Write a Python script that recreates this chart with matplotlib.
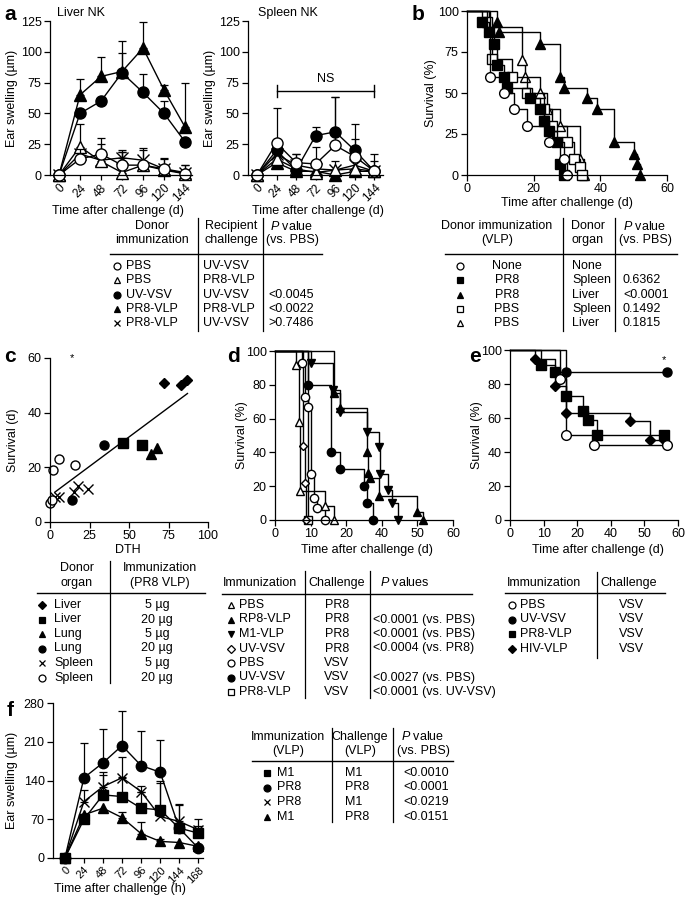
import numpy as np
import matplotlib.pyplot as plt

plt.rcParams['font.family'] = ['Liberation Sans', 'DejaVu Sans']
plt.rcParams['font.size'] = 9
plt.rcParams['mathtext.fontset'] = 'custom'
plt.rcParams['mathtext.it'] = 'Liberation Sans:italic'
plt.rcParams['mathtext.rm'] = 'Liberation Sans'

W, H = 685, 898

# ---------------- panel a : ear swelling (um) ----------------
hours_a = [0, 24, 48, 72, 96, 120, 144]
liver_pbs_uv = [0, 13, 17, 8, 8, 5, 1]
liver_pbs_uv_err = [0, 8, 8, 12, 14, 9, 7]
liver_pbs_pr8 = [0, 23, 11, 2, 8, 4, 1]
liver_pbs_pr8_err = [0, 18, 19, 17, 12, 9, 7]
liver_uv_uv = [0, 50, 60, 83, 67, 50, 27]
liver_uv_uv_err = [0, 0, 0, 16, 15, 10, 0]
liver_pr8_pr8 = [0, 65, 80, 84, 103, 69, 39]
liver_pr8_pr8_err = [0, 13, 16, 25, 21, 4, 36]
liver_pr8_uv = [0, 17, 12, 14, 12, 5, 2]
liver_pr8_uv_err = [0, 0, 0, 5, 0, 0, 0]

spleen_pbs_uv = [0, 26, 10, 9, 24, 15, 3]
spleen_pbs_uv_err = [0, 28, 7, 14, 39, 14, 14]
spleen_pbs_pr8 = [0, 13, 5, 2, 4, 5, 3]
spleen_pbs_pr8_err = [0, 0, 0, 0, 7, 0, 0]
spleen_uv_uv = [0, 20, 4, 32, 35, 20, 3]
spleen_uv_uv_err = [0, 0, 13, 7, 28, 21, 8]
spleen_pr8_pr8 = [0, 10, 3, 3, 0, 3, 3]
spleen_pr8_pr8_err = [0, 0, 0, 0, 0, 0, 0]
spleen_pr8_uv = [0, 17, 8, 5, 4, 8, 3]
spleen_pr8_uv_err = [0, 0, 0, 0, 0, 0, 0]

# ---------------- panel b : survival (%) ----------------
b_none_t = [0, 7, 11, 14, 18, 24.5, 29, 30]
b_none_s = [100, 60, 50, 40, 30, 20, 10, 0]
b_pr8_spleen_t = [0, 4.5, 6.5, 8, 9, 11, 12, 19, 22, 23, 24.5, 27, 28, 29]
b_pr8_spleen_s = [100, 93, 87, 80, 67, 60, 53, 47, 40, 33, 27, 20, 7, 0]
b_pr8_liver_t = [0, 9, 9.5, 22, 28, 29, 36, 39, 44, 50, 51, 52]
b_pr8_liver_s = [100, 93, 87, 80, 60, 53, 47, 40, 20, 13, 7, 0]
b_pbs_spleen_t = [0, 6, 7.5, 13.5, 18, 23, 25.5, 30, 32, 34, 34.5]
b_pbs_spleen_s = [100, 93, 71, 60, 50, 40, 30, 20, 10, 5, 0]
b_pbs_liver_t = [0, 6.5, 16.5, 17.5, 22, 24, 28, 34, 35]
b_pbs_liver_s = [100, 90, 70, 60, 50, 40, 30, 10, 0]

# ---------------- panel c : DTH vs survival ----------------
c_liver5_x, c_liver5_y = [72, 83, 87], [51, 50, 52]
c_liver20_x, c_liver20_y = [46, 58], [29, 28]
c_lung5_x, c_lung5_y = [64, 68], [25, 27]
c_lung20_x, c_lung20_y = [34, 14], [28, 8]
c_spleen5_x, c_spleen5_y = [3, 6, 15, 18, 24], [9, 9, 11, 13, 12]
c_spleen20_x, c_spleen20_y = [2, 6, 16, 0, 1], [19, 23, 21, 7, 8]
c_fit_slope, c_fit_intercept = 0.43, 9.6
c_fit_range = [3, 87]
c_star = (14, 60)

# ---------------- panel d : survival (%) ----------------
d_pbs_pr8_t = [0, 7, 8, 8.5, 17, 20]
d_pbs_pr8_s = [100, 92, 58, 17, 8, 0]
d_rp8_pr8_t = [0, 20, 22, 31, 31.5, 32, 35, 48, 50]
d_rp8_pr8_s = [100, 75, 66, 40, 28, 25, 14, 5, 0]
d_m1_pr8_t = [0, 12, 19.5, 22, 31, 35, 35.5, 38, 39.5, 41.5]
d_m1_pr8_s = [100, 93, 77, 64, 52, 43, 27, 18, 10, 0]
d_uv_pr8_t = [0, 9.5, 10, 10.5]
d_uv_pr8_s = [100, 44, 22, 0]
d_pbs_vsv_t = [0, 9, 10, 11, 12, 13, 14, 17]
d_pbs_vsv_s = [100, 93, 73, 67, 27, 13, 7, 0]
d_uv_vsv_t = [0, 11, 19, 22, 30, 31, 33]
d_uv_vsv_s = [100, 80, 40, 30, 20, 10, 0]
d_pr8_vsv_t = [0, 11]
d_pr8_vsv_s = [100, 0]

# ---------------- panel e : survival (%) ----------------
e_pbs_t, e_pbs_s = [0, 18, 20, 30, 56], [100, 83, 50, 44, 44]
e_uv_t, e_uv_s = [0, 20, 56], [100, 87, 87]
e_pr8_t = [0, 11, 16, 20, 26, 28, 31, 55]
e_pr8_s = [100, 91, 87, 73, 64, 59, 50, 50]
e_hiv_t = [0, 9, 16, 20, 43, 50, 55]
e_hiv_s = [100, 95, 79, 63, 58, 47, 47]
e_star = (55, 94)

# ---------------- panel f : ear swelling (um) ----------------
hours_f = [0, 24, 48, 72, 96, 120, 144, 168]
f_m1_m1 = [0, 70, 114, 111, 90, 87, 54, 45]
f_m1_m1_err = [0, 10, 36, 36, 30, 48, 41, 12]
f_pr8_pr8 = [0, 145, 172, 203, 167, 155, 54, 18]
f_pr8_pr8_err = [0, 63, 61, 62, 62, 59, 0, 0]
f_pr8_m1 = [0, 102, 129, 145, 120, 75, 66, 51]
f_pr8_m1_err = [0, 20, 27, 38, 10, 65, 32, 19]
f_m1_pr8 = [0, 78, 90, 73, 44, 30, 28, 21]
f_m1_pr8_err = [0, 0, 0, 10, 21, 5, 0, 0]

# ---------------- tables ----------------
ta_donor = ['PBS', 'PBS', 'UV-VSV', 'PR8-VLP', 'PR8-VLP']
ta_challenge = ['UV-VSV', 'PR8-VLP', 'UV-VSV', 'PR8-VLP', 'UV-VSV']
ta_p = ['', '', '<0.0045', '<0.0022', '>0.7486']
tb_donor = ['None', 'PR8', 'PR8', 'PBS', 'PBS']
tb_organ = ['None', 'Spleen', 'Liver', 'Spleen', 'Liver']
tb_p = ['', '0.6362', '<0.0001', '0.1492', '0.1815']
tc_organ = ['Liver', 'Liver', 'Lung', 'Lung', 'Spleen', 'Spleen']
tc_dose = ['5 \u00b5g', '20 \u00b5g', '5 \u00b5g', '20 \u00b5g', '5 \u00b5g', '20 \u00b5g']
td_immun = ['PBS', 'RP8-VLP', 'M1-VLP', 'UV-VSV', 'PBS', 'UV-VSV', 'PR8-VLP']
td_challenge = ['PR8', 'PR8', 'PR8', 'PR8', 'VSV', 'VSV', 'VSV']
td_p = ['', '<0.0001 (vs. PBS)', '<0.0001 (vs. PBS)', '<0.0004 (vs. PR8)', '',
        '<0.0027 (vs. PBS)', '<0.0001 (vs. UV-VSV)']
te_immun = ['PBS', 'UV-VSV', 'PR8-VLP', 'HIV-VLP']
te_challenge = ['VSV', 'VSV', 'VSV', 'VSV']
tf_immun = ['M1', 'PR8', 'PR8', 'M1']
tf_challenge = ['M1', 'PR8', 'M1', 'PR8']
tf_p = ['<0.0010', '<0.0001', '<0.0219', '<0.0151']

fig = plt.figure(figsize=(W / 100, H / 100), dpi=100)


def panel_axes(x0, y0, x1, y1):
    ax = fig.add_axes([x0 / W, 1 - y1 / H, (x1 - x0) / W, (y1 - y0) / H])
    ax.spines[['top', 'right']].set_visible(False)
    ax.spines[['left', 'bottom']].set_linewidth(0.9)
    ax.tick_params(direction='out', length=4, width=0.9, labelsize=9, pad=2)
    ax.patch.set_alpha(0)
    return ax


def swelling(ax, x, y, err, marker, filled, ms=8):
    x, y, err = np.array(x), np.array(y), np.array(err)
    m = err > 0
    if m.any():
        ax.errorbar(x[m], y[m], yerr=[np.zeros(m.sum()), err[m]], fmt='none',
                    ecolor='k', elinewidth=0.9, capsize=3, capthick=0.9, clip_on=False)
    ax.plot(x, y, color='k', lw=1, marker=marker, ms=ms,
            mfc='k' if filled else 'white', mec='k', mew=1, clip_on=False)


def km(ax, t, s, marker, filled, ms=7):
    ax.step(t, s, where='post', color='k', lw=1, clip_on=False)
    ax.plot(t[1:], s[1:], ls='none', marker=marker, ms=ms,
            mfc='k' if filled else 'white', mec='k', mew=1, clip_on=False)


def hour_axis(ax, ticks, size=8.5):
    ax.set_xticks(ticks)
    ax.set_xticklabels([str(v) for v in ticks], rotation=45, ha='right',
                       va='top', rotation_mode='anchor', fontsize=size)
    ax.tick_params(axis='x', pad=1.5, length=3.5)


# panel a, liver
ax = panel_axes(50, 21, 192, 175)
ax.set_xlim(-10.3, 152)
ax.set_ylim(0, 125)
ax.set_yticks([0, 25, 50, 75, 100, 125])
hour_axis(ax, hours_a)
swelling(ax, hours_a, liver_uv_uv, liver_uv_uv_err, 'o', True)
swelling(ax, hours_a, liver_pr8_pr8, liver_pr8_pr8_err, '^', True)
swelling(ax, hours_a, liver_pr8_uv, liver_pr8_uv_err, 'x', False)
swelling(ax, hours_a, liver_pbs_pr8, liver_pbs_pr8_err, '^', False)
swelling(ax, hours_a, liver_pbs_uv, liver_pbs_uv_err, 'o', False)

# panel a, spleen
ax = panel_axes(248, 21, 383, 175)
ax.set_xlim(-11, 154.6)
ax.set_ylim(0, 125)
ax.set_yticks([0, 25, 50, 75, 100, 125])
hour_axis(ax, hours_a)
swelling(ax, hours_a, spleen_pr8_pr8, spleen_pr8_pr8_err, '^', True)
swelling(ax, hours_a, spleen_pr8_uv, spleen_pr8_uv_err, 'x', False)
swelling(ax, hours_a, spleen_pbs_pr8, spleen_pbs_pr8_err, '^', False)
swelling(ax, hours_a, spleen_uv_uv, spleen_uv_uv_err, 'o', True)
swelling(ax, hours_a, spleen_pbs_uv, spleen_pbs_uv_err, 'o', False)
ax.plot([24, 144], [68, 68], color='k', lw=1)
ax.plot([24, 24], [63, 73], color='k', lw=1)
ax.plot([144, 144], [63, 73], color='k', lw=1)
ax.text(84, 78, 'NS', ha='center', va='center', fontsize=9)

# panel b
ax = panel_axes(467, 11, 667, 175)
ax.set_xlim(0, 60)
ax.set_ylim(0, 100)
ax.set_xticks([0, 20, 40, 60])
ax.set_yticks([0, 25, 50, 75, 100])
km(ax, b_pbs_liver_t, b_pbs_liver_s, '^', False)
km(ax, b_pbs_spleen_t, b_pbs_spleen_s, 's', False)
km(ax, b_pr8_liver_t, b_pr8_liver_s, '^', True)
km(ax, b_pr8_spleen_t, b_pr8_spleen_s, 's', True)
km(ax, b_none_t, b_none_s, 'o', False)

# panel c
ax = panel_axes(50, 358, 208, 522)
ax.set_xlim(0, 100)
ax.set_ylim(0, 60)
ax.set_xticks([0, 25, 50, 75, 100])
ax.set_yticks([0, 20, 40, 60])
fx = np.array(c_fit_range)
ax.plot(fx, c_fit_intercept + c_fit_slope * fx, color='k', lw=1)
for xs, ys, mk, fl in [(c_liver5_x, c_liver5_y, 'D', True),
                       (c_liver20_x, c_liver20_y, 's', True),
                       (c_lung5_x, c_lung5_y, '^', True),
                       (c_lung20_x, c_lung20_y, 'o', True),
                       (c_spleen5_x, c_spleen5_y, 'x', False),
                       (c_spleen20_x, c_spleen20_y, 'o', False)]:
    ax.plot(xs, ys, ls='none', marker=mk, ms=6.5 if mk != 'D' else 5.5,
            mfc='k' if fl else 'white', mec='k', mew=1, clip_on=False)
ax.text(c_star[0], c_star[1], '*', ha='center', va='center', fontsize=8)

odd_ticks = ['0', '10', '20', '40', '50', '60']

# panel d
ax = panel_axes(275, 351, 453, 520)
ax.set_xlim(0, 60)
ax.set_ylim(0, 100)
ax.set_xticks(np.linspace(0, 60, 6))
ax.set_xticklabels(odd_ticks)
ax.set_yticks([0, 20, 40, 60, 80, 100])
km(ax, d_pr8_vsv_t, d_pr8_vsv_s, 's', False, 6)
km(ax, d_uv_vsv_t, d_uv_vsv_s, 'o', True, 6)
km(ax, d_m1_pr8_t, d_m1_pr8_s, 'v', True, 6)
km(ax, d_rp8_pr8_t, d_rp8_pr8_s, '^', True, 6)
km(ax, d_uv_pr8_t, d_uv_pr8_s, 'D', False, 4.5)
km(ax, d_pbs_vsv_t, d_pbs_vsv_s, 'o', False, 6)
km(ax, d_pbs_pr8_t, d_pbs_pr8_s, '^', False, 6)

# panel e
ax = panel_axes(510, 350, 678, 520)
ax.set_xlim(0, 60)
ax.set_ylim(0, 100)
ax.set_xticks(np.linspace(0, 60, 6))
ax.set_xticklabels(odd_ticks)
ax.set_yticks([0, 20, 40, 60, 80, 100])
km(ax, e_hiv_t, e_hiv_s, 'D', True, 5)
km(ax, e_pr8_t, e_pr8_s, 's', True, 6.5)
km(ax, e_pbs_t, e_pbs_s, 'o', False, 7)
km(ax, e_uv_t, e_uv_s, 'o', True, 6.5)
ax.text(e_star[0], e_star[1], '*', ha='center', va='center', fontsize=8)

# panel f
ax = panel_axes(53, 703, 203, 858)
ax.set_xlim(-15, 174)
ax.set_ylim(0, 280)
ax.set_yticks([0, 70, 140, 210, 280])
hour_axis(ax, hours_f, 8)
swelling(ax, hours_f, f_m1_pr8, f_m1_pr8_err, '^', True, 7)
swelling(ax, hours_f, f_pr8_m1, f_pr8_m1_err, 'x', False, 7)
swelling(ax, hours_f, f_m1_m1, f_m1_m1_err, 's', True, 7)
swelling(ax, hours_f, f_pr8_pr8, f_pr8_pr8_err, 'o', True, 7.5)

# ---------------- overlay for labels and tables (pixel coords) ----------------
ov = fig.add_axes([0, 0, 1, 1])
ov.set_xlim(0, W)
ov.set_ylim(H, 0)
ov.axis('off')


def txt(x, y, s, ha='left', **kw):
    ov.text(x, y, s, ha=ha, va='center', fontsize=kw.pop('fontsize', 9), **kw)


def hline(x0, x1, y):
    ov.plot([x0, x1], [y, y], color='k', lw=1)


def vline(x, y0, y1):
    ov.plot([x, x], [y0, y1], color='k', lw=0.9)


def sym(x, y, marker, filled, ms=5):
    ov.plot([x], [y], ls='none', marker=marker, ms=ms,
            mfc='k' if filled else 'white', mec='k', mew=0.9)


# panel letters
for lx, ly, lab in [(10, 14, 'a'), (418, 15, 'b'), (10, 357, 'c'),
                    (234, 357, 'd'), (475, 357, 'e'), (10, 710, 'f')]:
    txt(lx, ly, lab, ha='center', fontsize=15, fontweight='bold')

txt(57, 13, 'Liver NK')
txt(258, 13, 'Spleen NK')

# axis labels
for lx, ly, lab in [(12, 98, 'Ear swelling (\u00b5m)'), (210, 98, 'Ear swelling (\u00b5m)'),
                    (431, 93, 'Survival (%)'), (13, 440, 'Survival (d)'),
                    (242, 435, 'Survival (%)'), (477, 435, 'Survival (%)'),
                    (12, 780, 'Ear swelling (\u00b5m)')]:
    txt(lx, ly, lab, ha='center', rotation=90)
for lx, ly, lab in [(118, 211, 'Time after challenge (d)'),
                    (318, 211, 'Time after challenge (d)'),
                    (567, 203, 'Time after challenge (d)'),
                    (128, 550, 'DTH'),
                    (367, 550, 'Time after challenge (d)'),
                    (598, 550, 'Time after challenge (d)'),
                    (120, 889, 'Time after challenge (h)')]:
    txt(lx, ly, lab, ha='center')

# table a
ta_mark = [('o', False), ('^', False), ('o', True), ('^', True), ('x', False)]
txt(152, 226, 'Donor', ha='center')
txt(152, 240, 'immunization', ha='center')
txt(231, 226, 'Recipient', ha='center')
txt(231, 240, 'challenge', ha='center')
txt(292, 226, '$P$ value', ha='center')
txt(292, 240, '(vs. PBS)', ha='center')
hline(110, 322, 254)
vline(198, 218, 331)
vline(263, 218, 331)
for i in range(5):
    y = 266 + 14.3 * i
    sym(117, y, *ta_mark[i])
    txt(126, y, ta_donor[i])
    txt(203, y, ta_challenge[i])
    txt(268, y, ta_p[i])

# table b
tb_mark = [('o', False), ('s', True), ('^', True), ('s', False), ('^', False)]
txt(497, 226, 'Donor immunization', ha='center')
txt(497, 240, '(VLP)', ha='center')
txt(588, 226, 'Donor', ha='center')
txt(588, 240, 'organ', ha='center')
txt(645, 226, '$P$ value', ha='center')
txt(645, 240, '(vs. PBS)', ha='center')
hline(445, 677, 254)
vline(563, 218, 331)
vline(615, 218, 331)
for i in range(5):
    y = 266 + 14.3 * i
    sym(460, y, *tb_mark[i])
    txt(507, y, tb_donor[i], ha='center')
    txt(572, y, tb_organ[i])
    txt(623, y, tb_p[i])

# table c
tc_mark = [('D', True), ('s', True), ('^', True), ('o', True), ('x', False), ('o', False)]
txt(77, 568, 'Donor', ha='center')
txt(77, 583, 'organ', ha='center')
txt(160, 568, 'Immunization', ha='center')
txt(160, 583, '(PR8 VLP)', ha='center')
hline(37, 205, 593)
vline(110, 561, 683)
for i in range(6):
    y = 605 + 14.5 * i
    sym(42, y, tc_mark[i][0], tc_mark[i][1], 4.5 if tc_mark[i][0] == 'D' else 5)
    txt(54, y, tc_organ[i])
    txt(157, y, tc_dose[i], ha='center')

# table d
td_mark = [('^', False), ('^', True), ('v', True), ('D', False), ('o', False),
           ('o', True), ('s', False)]
txt(223, 583, 'Immunization')
txt(308, 583, 'Challenge')
txt(380, 583, '$P$ values')
hline(222, 472, 594)
vline(305, 571, 698)
vline(370, 571, 698)
for i in range(7):
    y = 605 + 14.5 * i
    sym(231, y, td_mark[i][0], td_mark[i][1], 4.5 if td_mark[i][0] == 'D' else 5)
    txt(239, y, td_immun[i])
    txt(337, y, td_challenge[i], ha='center')
    txt(373, y, td_p[i])

# table e
te_mark = [('o', False), ('o', True), ('s', True), ('D', True)]
txt(507, 583, 'Immunization')
txt(600, 583, 'Challenge')
hline(505, 665, 593)
vline(597, 572, 658)
for i in range(4):
    y = 605 + 14.5 * i
    sym(512, y, te_mark[i][0], te_mark[i][1], 4.5 if te_mark[i][0] == 'D' else 5)
    txt(520, y, te_immun[i])
    txt(632, y, te_challenge[i], ha='center')

# table f
tf_mark = [('s', True), ('o', True), ('x', False), ('^', True)]
txt(288, 737, 'Immunization', ha='center')
txt(288, 751, '(VLP)', ha='center')
txt(360, 737, 'Challenge', ha='center')
txt(360, 751, '(VLP)', ha='center')
txt(423, 737, '$P$ value', ha='center')
txt(423, 751, '(vs. PBS)', ha='center')
hline(252, 453, 761)
vline(332, 728, 822)
vline(393, 728, 822)
for i in range(4):
    y = 773 + 14.5 * i
    sym(267, y, *tf_mark[i])
    txt(277, y, tf_immun[i])
    txt(345, y, tf_challenge[i])
    txt(403, y, tf_p[i])

fig.savefig('out.png', dpi=100)
